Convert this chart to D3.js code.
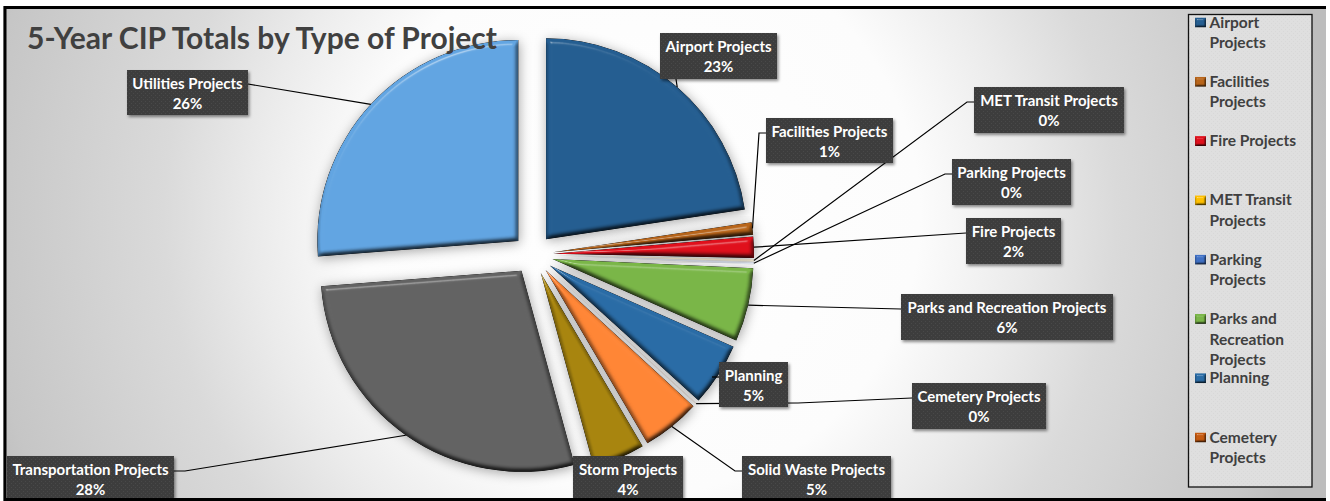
<!DOCTYPE html>
<html>
<head>
<meta charset="utf-8">
<title>5-Year CIP Totals by Type of Project</title>
<script src="https://cdn.jsdelivr.net/npm/d3@7"></script>
<style>
  body { margin: 0; background: #fff; }
  svg { display: block; font-family: Lato, "Open Sans", sans-serif; font-weight: 700; }
</style>
</head>
<body>
<svg id="cip-chart" width="1330" height="501"></svg>
<script>
////////////////////////////////////////////////////////////////////////////////
//////////////////////////////////////////////////////////////////////////// Data
////////////////////////////////////////////////////////////////////////////////

const chartTitle = "5-Year CIP Totals by Type of Project";

const projectNames = [
  "Airport Projects", "Facilities Projects", "Fire Projects", "MET Transit Projects",
  "Parking Projects", "Parks and Recreation Projects", "Planning", "Cemetery Projects",
  "Solid Waste Projects", "Storm Projects", "Transportation Projects", "Utilities Projects"
];

// percent of the 5-year total
const projectShares = [22.6, 1.0, 1.7, 0.2, 0.2, 5.9, 5.1, 0.1, 4.7, 4.2, 28.0, 26.2];

const sliceColors = [
  "#255e91", "#b8651a", "#e0101c", "#ffc000", "#3f70c4", "#7ab648",
  "#2a6ca6", "#c55a11", "#ff8636", "#a8850f", "#636363", "#62a5e2"
];

// the legend only shows its first page, wrapped like the original
const legendLines = [
  ["Airport", "Projects"], ["Facilities", "Projects"], ["Fire Projects"], ["MET Transit", "Projects"],
  ["Parking", "Projects"], ["Parks and", "Recreation", "Projects"], ["Planning"], ["Cemetery", "Projects"]
];

////////////////////////////////////////////////////////////////////////////////
////////////////////////////////////////////////////////////////////// Layout
////////////////////////////////////////////////////////////////////////////////

const center = { x: 533, y: 254.5 };
const radius = 201;
const explode = 20;

// data label boxes [x0, y0, x1, y1], same order as projectNames
const labelBoxes = [
  [660, 33, 777, 79], [766, 118, 893, 163], [966, 218, 1061, 264], [974, 87, 1124, 133],
  [952, 159, 1071, 205], [901, 294, 1113, 340], [719, 362, 788, 407], [912, 383, 1046, 429],
  [742, 456, 891, 498], [573, 456, 683, 498], [7, 456, 174, 498], [127, 70, 248, 115]
];

// where each leader line leaves its box, then its elbow (null = no elbow, no line for Storm)
const leaderStarts = [
  [[676, 79]], [[766, 133], [759, 133]], [[966, 233]], [[974, 102], [967, 102]],
  [[952, 174], [945, 174]], [[901, 309]], [[719, 377]], [[912, 398], [798, 403]],
  [[742, 471], [735, 471]], null, [[174, 471], [185, 471]], [[248, 84]]
];

const svg = d3.select("#cip-chart");
const defs = svg.append("defs");

////////////////////////////////////////////////////////////////////////////////
//////////////////////////////////////////////////////////////// Gradient, filters
////////////////////////////////////////////////////////////////////////////////

const bg = defs.append("radialGradient")
                 .attr("id", "bg-gradient")
                 .attr("gradientUnits", "userSpaceOnUse")
                 .attr("cx", 640).attr("cy", 215).attr("r", 700);
[[0, "#ffffff"], [0.4, "#fcfcfc"], [0.55, "#ebebeb"], [0.68, "#dadada"], [0.94, "#c6c6c6"], [1, "#bdbdbd"]].forEach(function(s) {
  bg.append("stop").attr("offset", s[0]).attr("stop-color", s[1]);
});

// dotted texture on label boxes and legend
function dotPattern(id, base, dot) {
  const p = defs.append("pattern")
                  .attr("id", id)
                  .attr("patternUnits", "userSpaceOnUse")
                  .attr("width", 4).attr("height", 4);
  p.append("rect").attr("width", 4).attr("height", 4).attr("fill", base);
  p.append("rect").attr("x", 1).attr("y", 1).attr("width", 1).attr("height", 1).attr("fill", dot);
  p.append("rect").attr("x", 3).attr("y", 3).attr("width", 1).attr("height", 1).attr("fill", dot);
}
dotPattern("label-dots", "#3d3d3d", "#4a4a4a");
dotPattern("legend-dots", "#dfdfdf", "#d8d8d8");

// bevel: diffuse light multiplied on the fill, specular added, soft shadow below
function bevelFilter(id, blur, scale, withShadow) {
  const f = defs.append("filter")
                  .attr("id", id)
                  .attr("x", "-20%").attr("y", "-20%")
                  .attr("width", "140%").attr("height", "140%")
                  .attr("color-interpolation-filters", "sRGB");
  f.append("feGaussianBlur").attr("in", "SourceAlpha").attr("stdDeviation", blur).attr("result", "alphaBlur");
  f.append("feDiffuseLighting")
     .attr("in", "alphaBlur")
     .attr("surfaceScale", scale)
     .attr("diffuseConstant", 1.16)
     .attr("lighting-color", "#ffffff")
     .attr("result", "diffuse")
   .append("feDistantLight").attr("azimuth", 250).attr("elevation", 60);
  f.append("feComposite")
     .attr("in", "SourceGraphic").attr("in2", "diffuse")
     .attr("operator", "arithmetic")
     .attr("k1", 1).attr("k2", 0).attr("k3", 0).attr("k4", 0)
     .attr("result", "lit");
  f.append("feSpecularLighting")
     .attr("in", "alphaBlur")
     .attr("surfaceScale", scale)
     .attr("specularConstant", 0.45)
     .attr("specularExponent", 70)
     .attr("lighting-color", "#ffffff")
     .attr("result", "spec")
   .append("feDistantLight").attr("azimuth", 250).attr("elevation", 50);
  f.append("feComposite").attr("in", "spec").attr("in2", "SourceAlpha").attr("operator", "in").attr("result", "specIn");
  f.append("feComposite").attr("in", "lit").attr("in2", "SourceAlpha").attr("operator", "in").attr("result", "litIn");
  const merge = f.append("feMerge");
  if (withShadow) {
    f.insert("feDropShadow", "feMerge")
       .attr("in", "SourceAlpha")
       .attr("dx", 1).attr("dy", 2).attr("stdDeviation", 6)
       .attr("flood-color", "#000").attr("flood-opacity", 0.35)
       .attr("result", "shadow");
    merge.append("feMergeNode").attr("in", "shadow");
  }
  merge.append("feMergeNode").attr("in", "litIn");
  merge.append("feMergeNode").attr("in", "specIn");
}
bevelFilter("slice-bevel", 2.6, 3.6, true);
bevelFilter("swatch-bevel", 1.2, 2, false);

const boxShadow = defs.append("filter").attr("id", "box-shadow")
                        .attr("x", "-10%").attr("y", "-20%").attr("width", "120%").attr("height", "150%");
boxShadow.append("feDropShadow")
           .attr("dx", 1.5).attr("dy", 2).attr("stdDeviation", 1.5)
           .attr("flood-color", "#000").attr("flood-opacity", 0.45);

////////////////////////////////////////////////////////////////////////////////
////////////////////////////////////////////////////////////////////// Background
////////////////////////////////////////////////////////////////////////////////

svg.append("rect")
     .attr("x", 3).attr("y", 6)
     .attr("width", 1323).attr("height", 495)
     .attr("fill", "url(#bg-gradient)");

////////////////////////////////////////////////////////////////////////////////
///////////////////////////////////////////////////////////////////////////// Pie
////////////////////////////////////////////////////////////////////////////////

const colorScale = d3.scaleOrdinal().domain(projectNames).range(sliceColors);

const pie = d3.pie().sort(null).value(function(d) { return d.share; });
const arc = d3.arc().innerRadius(0).outerRadius(radius);

const slices = pie(projectNames.map(function(name, i) {
  return { name: name, share: projectShares[i] };
}));

// offset from the pie center along the middle of a slice
function polar(d, r) {
  const mid = (d.startAngle + d.endAngle) / 2;
  return [center.x + r * Math.sin(mid), center.y - r * Math.cos(mid)];
}

svg.append("g")
     .selectAll("path")
     .data(slices)
     .join("path")
       .attr("transform", function(d) {
         const p = polar(d, explode);
         return `translate(${p[0]},${p[1]})`;
       })
       .attr("d", arc)
       .attr("fill", function(d) { return colorScale(d.data.name); })
       // the 0% slices barely show in the original
       .attr("opacity", function(d) { return d.data.share < 0.5 ? 0.12 : 1; })
       .attr("filter", "url(#slice-bevel)");

////////////////////////////////////////////////////////////////////////////////
//////////////////////////////////////////////////////////////////// Leader lines
////////////////////////////////////////////////////////////////////////////////

const leaderLine = d3.line();

svg.append("g")
     .selectAll("path")
     .data(slices.filter(function(d, i) { return leaderStarts[i]; }))
     .join("path")
       .attr("fill", "none")
       .attr("stroke", "#000")
       .attr("stroke-width", 1.2)
       .attr("d", function(d) {
         const start = leaderStarts[d.index];
         // Planning's label sits on its slice, so its line stops short
         const end = d.data.name === "Planning" ? [712, 377] : polar(d, explode + radius);
         return leaderLine(start.concat([end]));
       });

////////////////////////////////////////////////////////////////////////////////
///////////////////////////////////////////////////////////////////// Data labels
////////////////////////////////////////////////////////////////////////////////

const labels = svg.append("g")
                    .selectAll("g")
                    .data(slices)
                    .join("g");

labels.append("rect")
        .attr("x", function(d) { return labelBoxes[d.index][0]; })
        .attr("y", function(d) { return labelBoxes[d.index][1]; })
        .attr("width", function(d) { return labelBoxes[d.index][2] - labelBoxes[d.index][0]; })
        .attr("height", function(d) { return labelBoxes[d.index][3] - labelBoxes[d.index][1]; })
        .attr("fill", "url(#label-dots)")
        .attr("filter", "url(#box-shadow)");

labels.append("text")
        .attr("x", function(d) { return (labelBoxes[d.index][0] + labelBoxes[d.index][2]) / 2; })
        .attr("y", function(d) { return labelBoxes[d.index][1] + 19; })
        .attr("text-anchor", "middle")
        .attr("font-size", 15)
        .attr("fill", "#fff")
        .text(function(d) { return d.data.name; });

labels.append("text")
        .attr("x", function(d) { return (labelBoxes[d.index][0] + labelBoxes[d.index][2]) / 2; })
        .attr("y", function(d) { return labelBoxes[d.index][1] + 39; })
        .attr("text-anchor", "middle")
        .attr("font-size", 15)
        .attr("fill", "#fff")
        .text(function(d) { return d3.format(".0f")(d.data.share) + "%"; });

////////////////////////////////////////////////////////////////////////////////
/////////////////////////////////////////////////////////////////////////// Title
////////////////////////////////////////////////////////////////////////////////

svg.append("text")
     .attr("x", 27)
     .attr("y", 49)
     .attr("font-size", 30)
     .attr("fill", "#404040")
     .text(chartTitle);

////////////////////////////////////////////////////////////////////////////////
////////////////////////////////////////////////////////////////////////// Legend
////////////////////////////////////////////////////////////////////////////////

const legendNames = projectNames.slice(0, legendLines.length);
const legendY = d3.scalePoint().domain(legendNames).range([22.5, 437.5]);

svg.append("rect")
     .attr("x", 1188.5).attr("y", 14.5)
     .attr("width", 123.5).attr("height", 472.5)
     .attr("fill", "url(#legend-dots)")
     .attr("stroke", "#111")
     .attr("stroke-width", 1.3);

const legendItems = svg.append("g")
                         .selectAll("g")
                         .data(legendNames)
                         .join("g")
                           .attr("transform", function(d) { return `translate(1195,${legendY(d)})`; });

legendItems.append("rect")
             .attr("y", -5)
             .attr("width", 11).attr("height", 10)
             .attr("fill", function(d) { return colorScale(d); })
             .attr("filter", "url(#swatch-bevel)");

legendItems.append("g")
             .selectAll("text")
             .data(function(d, i) { return legendLines[i]; })
             .join("text")
               .attr("x", 14.5)
               .attr("y", function(d, i) { return 5 + i * 20.6; })
               .attr("font-size", 15.5)
               .attr("fill", "#404040")
               .text(function(d) { return d; });

////////////////////////////////////////////////////////////////////////////////
////////////////////////////////////////////////////////////////////////// Border
////////////////////////////////////////////////////////////////////////////////

svg.append("path")
     .attr("d", "M1326,7.5H5V499.5H1326")
     .attr("fill", "none")
     .attr("stroke", "#000")
     .attr("stroke-width", 3);
</script>
</body>
</html>
